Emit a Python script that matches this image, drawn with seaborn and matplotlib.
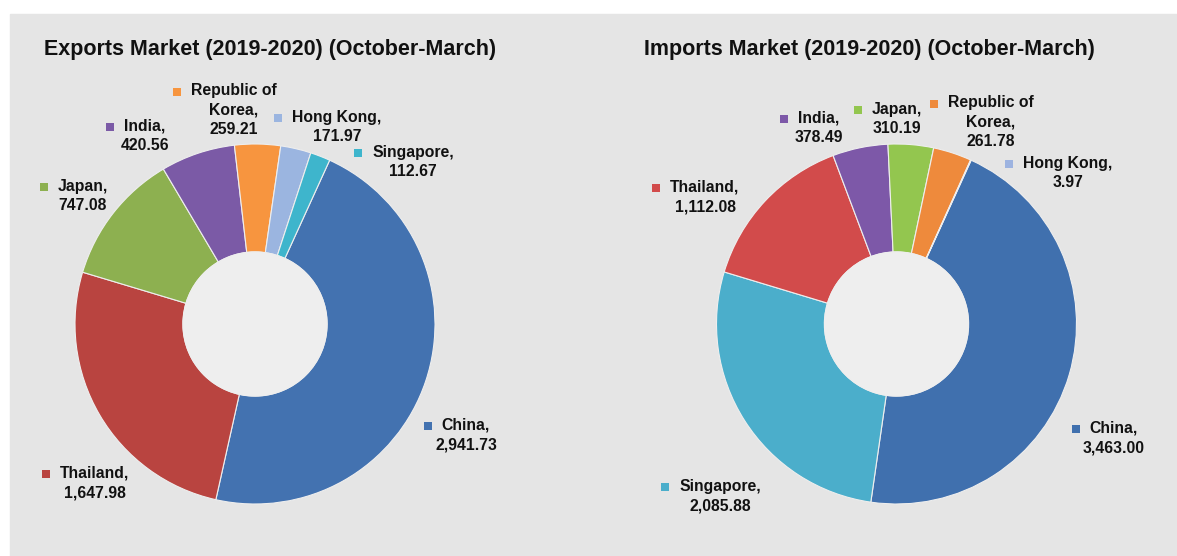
import matplotlib
matplotlib.use("Agg")
import matplotlib.pyplot as plt
from matplotlib.patches import Rectangle
import seaborn as sns

# ---- data ----
export_names = ["China", "Thailand", "Japan", "India", "Republic of Korea", "Hong Kong", "Singapore"]
export_values = [2941.73, 1647.98, 747.08, 420.56, 259.21, 171.97, 112.67]
export_colors = ["#4372b0", "#b94440", "#8db050", "#7b5aa6", "#f7953f", "#9bb5e0", "#3eb5cc"]

import_names = ["China", "Singapore", "Thailand", "India", "Japan", "Republic of Korea", "Hong Kong"]
import_values = [3463.00, 2085.88, 1112.08, 378.49, 310.19, 261.78, 3.97]
import_colors = ["#4070ae", "#4baecb", "#d24b4b", "#7d58a8", "#93c64f", "#ee8a3c", "#9db3e0"]

export_title = "Exports Market (2019-2020) (October-March)"
import_title = "Imports Market (2019-2020) (October-March)"

# ---- layout (pixels, image coords, y down) ----
W, H = 1177, 556
R_PX = 180
export_center = (255, 324)
import_center = (896.5, 324)
export_label_pos = [(466, 435), (95, 483), (83, 196), (145, 136), (234, 110), (337, 127), (413, 162)]
import_label_pos = [(1114, 438), (720, 496), (705, 197), (819, 128), (897, 119), (991, 122), (1068, 173)]

PANEL = "#e5e5e5"
HOLE = "#eeeeee"

sns.set_style("white")
plt.rcParams["font.family"] = ["Liberation Sans", "DejaVu Sans"]

fig = plt.figure(figsize=(W / 100, H / 100), dpi=100)
fig.patch.set_facecolor("white")
# grey panel behind both charts (white strip on top and left)
fig.patches.append(Rectangle((10 / W, 0), 1 - 10 / W, (H - 14) / H,
                             transform=fig.transFigure, color=PANEL, zorder=-5))


def label_text(name, value):
    name = name.replace("Republic of ", "Republic of\n")
    return f"{name},\n{value:,.2f}"


def donut(ax_rect, center, names, values, colors, label_pos, title, title_x):
    x0, x1 = ax_rect
    ax = fig.add_axes([x0 / W, 0, (x1 - x0) / W, 1])
    ax.pie(values, colors=colors, startangle=90 - 24.5, counterclock=False,
           radius=1.0, wedgeprops=dict(width=0.6, edgecolor="#eeeeee", linewidth=0.8))
    ax.add_patch(plt.Circle((0, 0), 0.4, color=HOLE, zorder=3))
    cx, cy = center
    ax.set_xlim((x0 - cx) / R_PX, (x1 - cx) / R_PX)
    ax.set_ylim((cy - H) / R_PX, cy / R_PX)
    ax.set_aspect("auto")
    ax.axis("off")

    fig.canvas.draw()
    renderer = fig.canvas.get_renderer()
    for name, value, color, (px, py) in zip(names, values, colors, label_pos):
        txt = label_text(name, value)
        lx, ly = (px - cx) / R_PX, (cy - py) / R_PX
        t = ax.text(lx, ly, txt, ha="center", va="center", multialignment="center",
                    fontsize=11.3, fontweight="bold", color="#111111", linespacing=1.35)
        # measure first line to put the legend key on its left
        first = txt.split("\n")[0]
        tmp = ax.text(lx, ly, first, ha="center", va="center", fontsize=11.3, fontweight="bold")
        fb = tmp.get_window_extent(renderer)
        tmp.remove()
        bb = t.get_window_extent(renderer)
        cxd = (bb.x0 + bb.x1) / 2
        mx, my = cxd - fb.width / 2 - 14, bb.y1 - fb.height / 2 - 1
        mdx, mdy = ax.transData.inverted().transform((mx, my))
        ax.plot([mdx], [mdy], marker="s", markersize=5.5, color=color,
                markeredgewidth=0, linestyle="none")

    fig.text(title_x / W, 1 - 50 / H, title, ha="center", va="center",
             fontsize=15.5, fontweight="bold", color="#111111")
    return ax


donut((0, 588), export_center, export_names, export_values, export_colors,
      export_label_pos, export_title, 270)
donut((588, W), import_center, import_names, import_values, import_colors,
      import_label_pos, import_title, 869)

fig.savefig("out.png", dpi=100)
